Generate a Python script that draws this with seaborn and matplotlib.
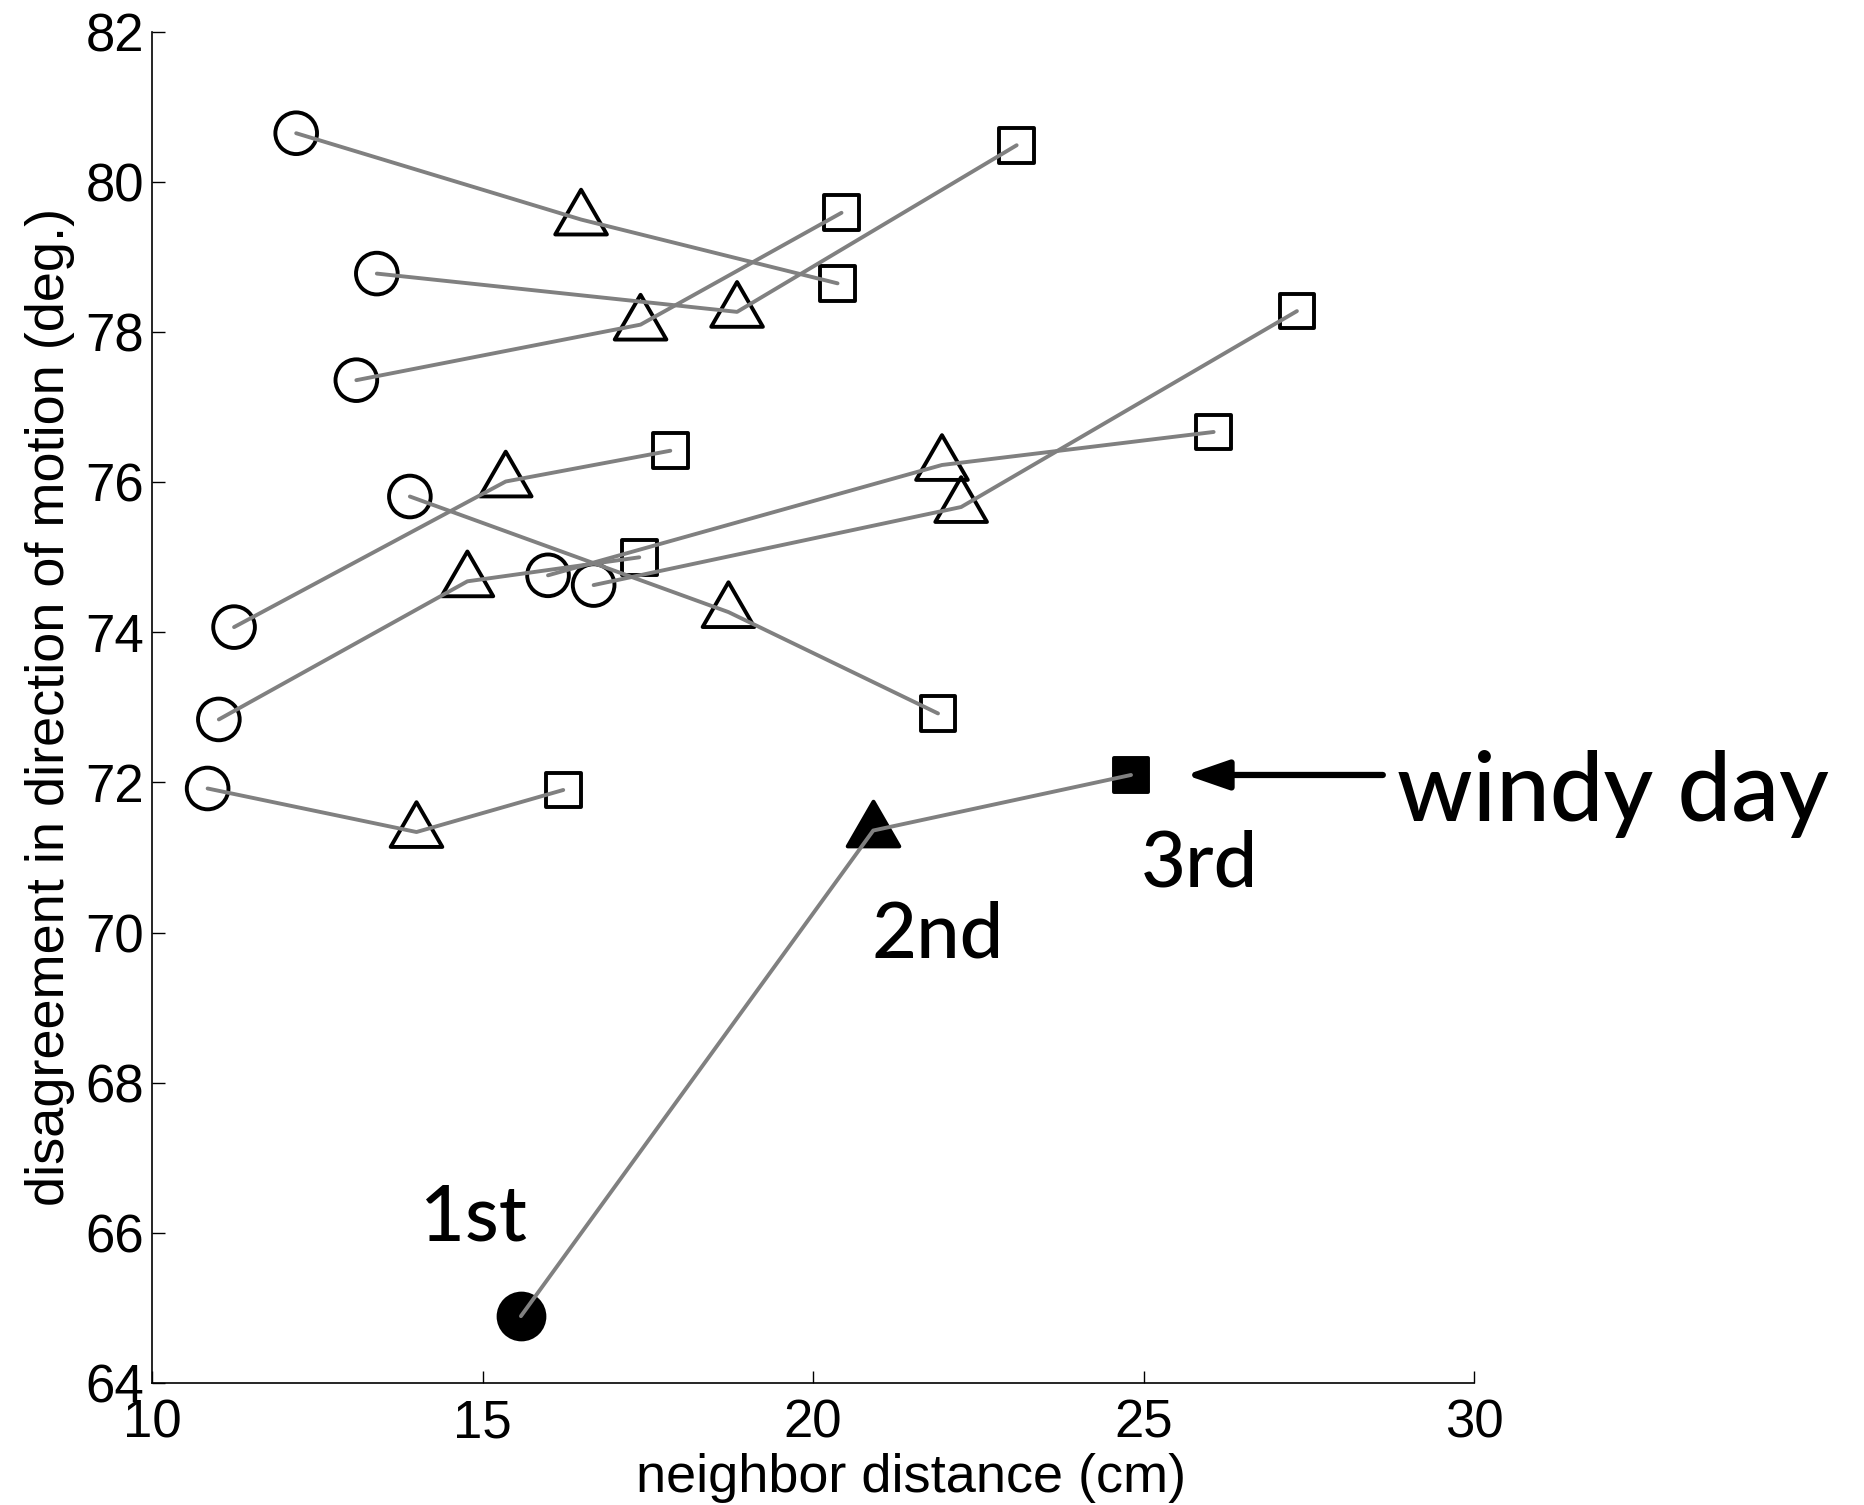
import numpy as np
import pandas as pd
import matplotlib
matplotlib.use("Agg")
import matplotlib.pyplot as plt
from matplotlib.path import Path
import seaborn as sns

# ---- data ----
groups = ["g1", "g2", "g3", "g4", "g5", "g6", "g7", "g8", "g9", "windy"]
first_x = [12.18, 13.40, 13.09, 11.24, 13.90, 11.01, 15.99, 16.68, 10.84, 15.58]
first_y = [80.65, 78.78, 77.36, 74.07, 75.81, 72.84, 74.76, 74.63, 71.92, 64.89]
second_x = [16.49, 18.85, 17.39, 15.35, 18.72, 14.77, 21.95, 22.24, 14.00, 20.91]
second_y = [79.50, 78.27, 78.10, 76.01, 74.27, 74.68, 76.23, 75.67, 71.34, 71.36]
third_x = [20.37, 23.08, 20.43, 17.84, 21.89, 17.37, 26.06, 27.32, 16.22, 24.81]
third_y = [78.65, 80.49, 79.59, 76.42, 72.92, 75.00, 76.67, 78.28, 71.90, 72.10]
ranks = ["1st", "2nd", "3rd"]

x_ticks = [10, 15, 20, 25, 30]
y_ticks = [64, 66, 68, 70, 72, 74, 76, 78, 80, 82]

rows = []
for i, g in enumerate(groups):
    for r, xs, ys in zip(ranks, [first_x, second_x, third_x], [first_y, second_y, third_y]):
        rows.append({"group": g, "rank": r, "x": xs[i], "y": ys[i], "windy": g == "windy"})
df = pd.DataFrame(rows)

# ---- style ----
sns.set_style("ticks")
plt.rcParams["font.family"] = ["Liberation Sans", "DejaVu Sans"]
plt.rcParams["text.color"] = "black"
plt.rcParams["axes.labelcolor"] = "black"

fig = plt.figure(figsize=(18.64, 15.05), dpi=100)
ax = fig.add_axes([0.0816, 0.0811, 0.7092, 0.8977])

# lines (drawn above markers, as in the reference)
sns.lineplot(data=df, x="x", y="y", units="group", estimator=None, sort=False,
             color="#808080", linewidth=2.8, ax=ax, legend=False, zorder=3)

tri = Path([(0.0, 1.0), (-0.866, -0.5), (0.866, -0.5), (0.0, 1.0)],
           [Path.MOVETO, Path.LINETO, Path.LINETO, Path.CLOSEPOLY])
marker_spec = {"1st": ("o", 30), "2nd": (tri, 43), "3rd": ("s", 25)}

for r in ranks:
    m, ms = marker_spec[r]
    sub = df[(df["rank"] == r) & (~df["windy"])]
    sns.scatterplot(data=sub, x="x", y="y", marker=m, s=ms ** 2,
                    facecolor="none", edgecolor="black", linewidth=2.8,
                    ax=ax, legend=False, zorder=2)
    subw = df[(df["rank"] == r) & (df["windy"])]
    msw = ms * 1.1 if r == "1st" else ms
    sns.scatterplot(data=subw, x="x", y="y", marker=m, s=msw ** 2,
                    facecolor="black", edgecolor="black", linewidth=2.8,
                    ax=ax, legend=False, zorder=2)

ax.set_xlim(10, 30)
ax.set_ylim(64, 82)
ax.set_xticks(x_ticks)
ax.set_yticks(y_ticks)
ax.tick_params(direction="in", length=9, width=1, labelsize=38, colors="black")
ax.tick_params(axis="x", pad=11)
ax.tick_params(axis="y", pad=6)
for s in ["top", "right"]:
    ax.spines[s].set_visible(False)
for s in ["left", "bottom"]:
    ax.spines[s].set_linewidth(1.2)
    ax.spines[s].set_color("black")

ax.set_xlabel("neighbor distance (cm)", fontsize=39)
ax.set_ylabel("disagreement in direction of motion (deg.)", fontsize=39)
ax.xaxis.set_label_coords(0.574, -0.052)
ax.yaxis.set_label_coords(-0.058, 0.5)

# annotations
afont = ["Lato", "DejaVu Sans"]
ax.text(28.83, 71.49, "windy day", fontsize=69, family=afont, weight="medium",
        color="black", ha="left", va="baseline", clip_on=False)
ax.text(24.96, 70.62, "3rd", fontsize=56, family=afont, weight="medium", color="black",
        ha="left", va="baseline")
ax.text(20.88, 69.67, "2nd", fontsize=56, family=afont, weight="medium", color="black",
        ha="left", va="baseline")
ax.text(14.05, 65.90, "1st", fontsize=56, family=afont, weight="medium", color="black",
        ha="left", va="baseline")
ax.annotate("", xy=(25.64, 72.10), xytext=(28.62, 72.10),
            arrowprops=dict(arrowstyle="-|>,head_length=1.3,head_width=0.45",
                            color="black", lw=4.5, shrinkA=0, shrinkB=0, mutation_scale=20),
            annotation_clip=False)

fig.savefig("out.png", dpi=100)
